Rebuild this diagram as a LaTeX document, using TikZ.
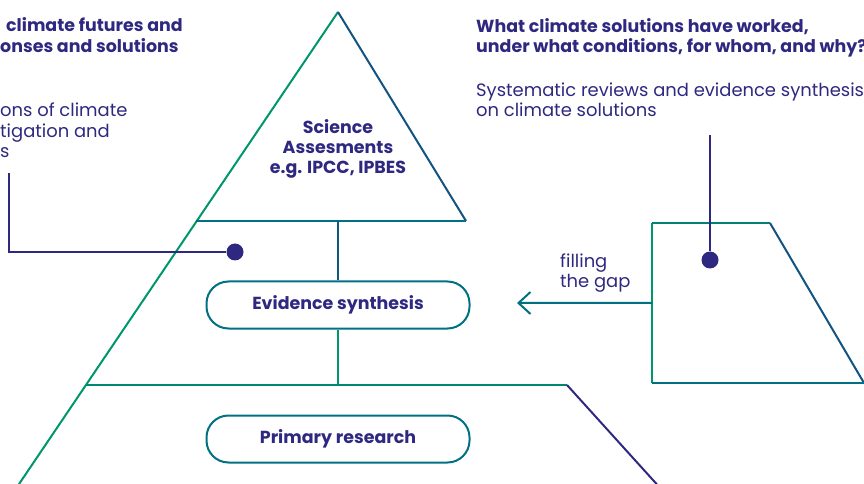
\documentclass[tikz,border=0pt]{standalone}
\usepackage{fontspec}
\setmainfont{Poppins}
\usetikzlibrary{arrows.meta, positioning, calc}
\definecolor{cnavy}{RGB}{46,40,128}
\definecolor{cteal}{RGB}{0,112,130}
\definecolor{cgreen}{RGB}{0,150,108}
\tikzstyle{wire} = [line width=2bp, draw=cteal]
\tikzstyle{box} = [rectangle, rounded corners=22bp, minimum width=263bp, minimum height=47bp, line width=2bp, draw=cteal, text=cnavy, font=\bfseries\fontsize{17.5}{21}\selectfont]
\tikzstyle{dot} = [circle, fill=cnavy, inner sep=0pt, minimum size=17bp]
\tikzstyle{txt} = [text=cnavy, inner sep=0pt, align=left, anchor=base west, font=\fontsize{18}{21}\selectfont]
\tikzstyle{btxt} = [txt, font=\bfseries\fontsize{17.5}{20.5}\selectfont]
\tikzstyle{arrow} = [wire, -{Straight Barb[length=12bp, width=22bp]}]

\begin{document}
\begin{tikzpicture}[x=1bp, y=-1bp]
\useasboundingbox (0,0) rectangle (864,484);
\clip (0,0) rectangle (864,484);

% pyramid
\coordinate (apex) at (338,12);
\coordinate (sciL) at (196,221);
\coordinate (sciR) at (466,221);
\coordinate (pyrL) at (15,490);
\coordinate (baseL) at (86,385);
\coordinate (bend) at (567,385);
\coordinate (pyrR) at (662,490);
\node (sci) [btxt, align=center, anchor=base] at (338,174) {Science\\Assesments\\e.g. IPCC, IPBES};
\node (evid) [box] at (338,305) {Evidence synthesis};
\node (prim) [box] at (338,439) {Primary research};

\draw [wire, cgreen] (apex) -- (pyrL);
\draw [wire, cteal!60!cnavy] (apex) -- (sciR);
\draw [wire] (sciR) -- (sciL);
\draw [wire, cteal!70!cnavy] (evid.north) -- (evid.north |- sciL);
\draw [wire, cgreen] (evid.south) -- (evid.south |- baseL);
\draw [wire, cgreen!60!cteal] (baseL) -- (bend);
\draw [wire, cnavy] (bend) -- (pyrR);

% left note
\coordinate (noteL) at (9,173);
\node (dotL) [dot] at (235,252) {};
\draw [wire, cnavy] (noteL) |- (dotL);

% right note
\coordinate (trTL) at (652,223);
\coordinate (trTR) at (770,223);
\coordinate (trBR) at (864,383);
\coordinate (trBL) at (652,383);
\draw [wire, cgreen] (trBL) -- (trTL);
\draw [wire, cgreen!50!cteal] (trTL) -- (trTR);
\draw [wire, cteal!60!cnavy] (trTR) -- (trBR);
\draw [wire] (trBR) -- (trBL);
\coordinate (noteR) at (710,135);
\node (dotR) [dot] at (710,260) {};
\draw [wire, cnavy] (noteR) -- (dotR);
\coordinate (gapL) at (517,303);
\draw [arrow] ($(trTL)!0.5!(trBL)$) -- (gapL);
\node (gap) [txt] at (560,288) {filling\\the gap};

% texts
\node (futA) [btxt] at (6,32) {climate futures and};
\node (futB) [btxt] at (0,52.5) {onses and solutions};
\node (opts) [txt] at (0,158) {ons of climate\\tigation and\\s};
\node (quest) [btxt] at (476,52.5) {What climate solutions have worked,\\under what conditions, for whom, and why?};
\node (revs) [txt] at (476,117) {Systematic reviews and evidence synthesis\\on climate solutions};

\end{tikzpicture}
\end{document}
